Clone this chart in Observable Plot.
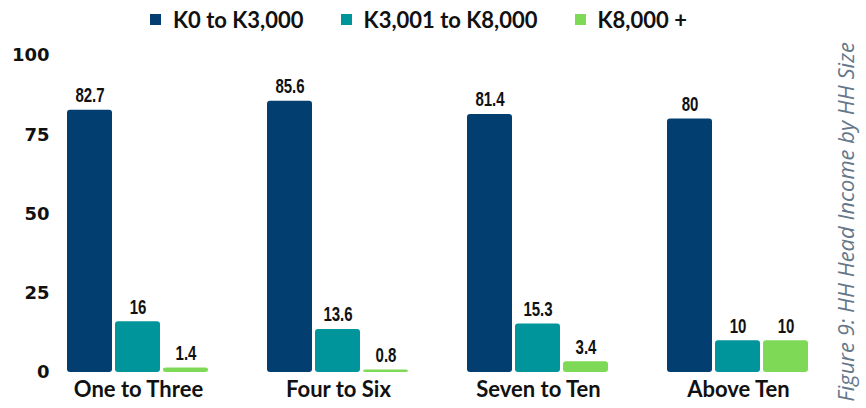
<!DOCTYPE html>
<html>
<head>
<meta charset="utf-8">
<script src="https://cdn.jsdelivr.net/npm/d3@7"></script>
<script src="https://cdn.jsdelivr.net/npm/@observablehq/plot@0.6"></script>
<style>
  html, body { margin: 0; padding: 0; background: #fff; }
  #wrap { position: relative; width: 866px; height: 408px; overflow: hidden; }
  #legend { position: absolute; left: 150px; top: 0; height: 38px; display: flex; align-items: center;
            font-family: Lato, sans-serif; font-weight: 700; font-size: 22px; color: #111; }
  .item { display: flex; align-items: center; margin-right: 37px; }
  .sw { width: 11px; height: 11px; margin-right: 12px; }
  #chart { position: absolute; left: 0; top: 35px; }
  #caption { position: absolute; left: 845px; top: 222px; transform: translate(-50%, -50%) rotate(-90deg);
             white-space: nowrap; font-family: "Open Sans", sans-serif; font-style: italic; font-weight: 400;
             font-size: 22px; color: #66778a; }
</style>
</head>
<body>
<div id="wrap">
  <div id="legend"></div>
  <div id="chart"></div>
  <div id="caption">Figure 9: HH Head Income by HH Size</div>
</div>
<script>
const groups = ["One to Three", "Four to Six", "Seven to Ten", "Above Ten"];
const series = ["K0 to K3,000", "K3,001 to K8,000", "K8,000 +"];
const k0to3000 = [82.7, 85.6, 81.4, 80];
const k3001to8000 = [16, 13.6, 15.3, 10];
const k8000plus = [1.4, 0.8, 3.4, 10];
const yTicks = [0, 25, 50, 75, 100];
const colors = ["#023e6f", "#00959a", "#7ed957"];

const seriesValues = [k0to3000, k3001to8000, k8000plus];
const rows = [];
groups.forEach((g, i) => series.forEach((s, j) => rows.push({group: g, series: s, value: seriesValues[j][i]})));

// legend
const legend = document.getElementById("legend");
series.forEach((s, j) => {
  const it = document.createElement("div");
  it.className = "item";
  const sw = document.createElement("div");
  sw.className = "sw";
  sw.style.background = colors[j];
  const t = document.createElement("span");
  t.textContent = s;
  it.appendChild(sw); it.appendChild(t);
  legend.appendChild(it);
});

const chart = Plot.plot({
  width: 866,
  height: 373,
  marginTop: 20,
  marginBottom: 36,
  marginLeft: 52,
  marginRight: 43,
  style: {fontFamily: "Lato, sans-serif", color: "#111", background: "transparent"},
  fx: {domain: groups, paddingInner: 0.28, paddingOuter: 0.06, label: null, axis: null},
  x: {domain: series, paddingInner: 0.06, paddingOuter: 0, axis: null},
  y: {domain: [0, 100], axis: null},
  color: {domain: series, range: colors},
  marks: [
    Plot.barY(rows, {fx: "group", x: "series", y: "value", fill: "series", rx: 3}),
    Plot.text(rows, {fx: "group", x: "series", y: "value", text: d => String(d.value),
      dy: -8, lineAnchor: "bottom", fontFamily: "'Liberation Sans', sans-serif",
      fontWeight: "bold", fontSize: 20, fill: "#111", className: "vlabel"}),
    Plot.axisY({ticks: yTicks, tickSize: 0, tickPadding: 17, label: null,
      fontFamily: "'DejaVu Sans', sans-serif", fontSize: 18, fontWeight: "bold", fill: "#111"}),
    Plot.axisFx({anchor: "bottom", tickSize: 0, tickPadding: 9, label: null,
      fontSize: 22, fontWeight: "bold", fill: "#111"})
  ]
});
document.getElementById("chart").appendChild(chart);

// condense the value labels (narrow typeface look)
chart.querySelectorAll("g.vlabel text, .vlabel text").forEach(t => {
  const w = t.getComputedTextLength();
  t.setAttribute("textLength", (w * 0.75).toFixed(1));
  t.setAttribute("lengthAdjust", "spacingAndGlyphs");
});
</script>
</body>
</html>
